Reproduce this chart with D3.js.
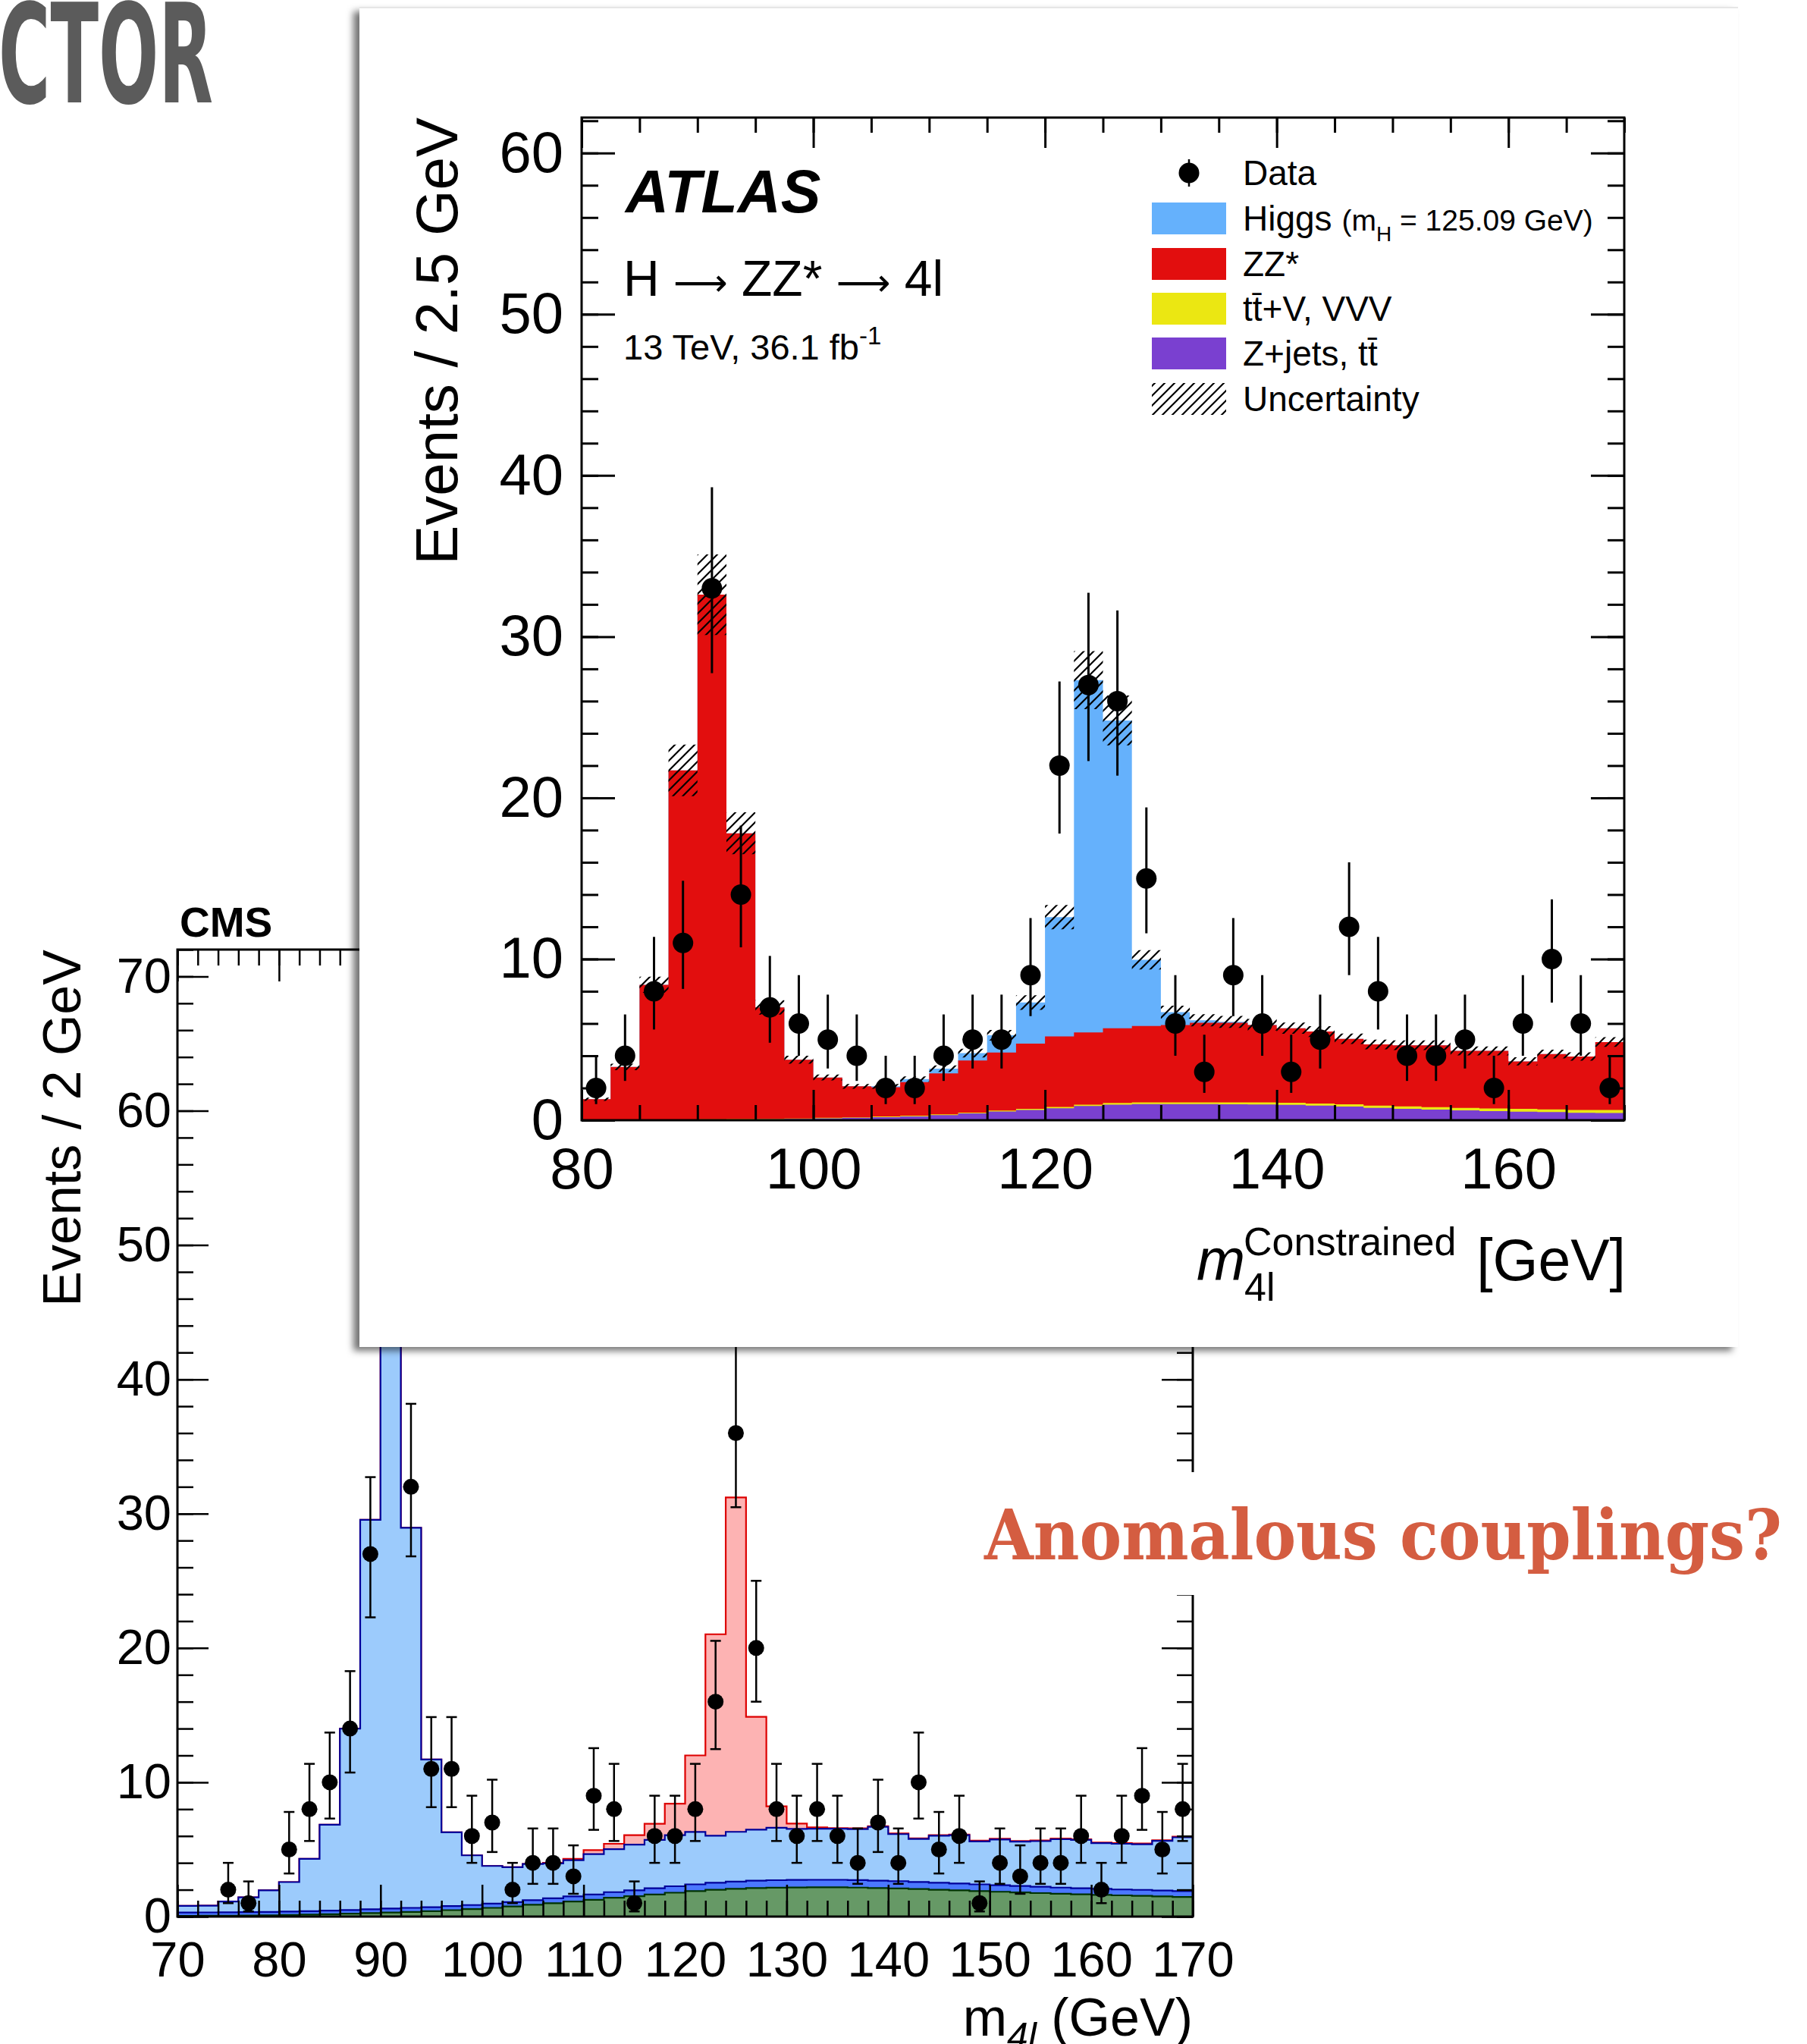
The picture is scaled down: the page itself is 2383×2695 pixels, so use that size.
<!DOCTYPE html>
<html>
<head>
<meta charset="utf-8">
<script src="https://cdn.jsdelivr.net/npm/d3@7"></script>
<style>
  html, body { margin: 0; padding: 0; background: #fff; }
  svg { display: block; }
</style>
</head>
<body>
<div id="chart"></div>
<script>
// ---------- ATLAS: 2.5 GeV bins, low edges ----------
var atlasEdges = [80,82.5,85,87.5,90,92.5,95,97.5,100,102.5,105,107.5,110,112.5,115,117.5,120,122.5,
                  125,127.5,130,132.5,135,137.5,140,142.5,145,147.5,150,152.5,155,157.5,160,162.5,165,167.5];
var atlasData  = [2,4,8,11,33,14,7,6,5,4,2,2,4,5,5,9,22,27,26,15,6,3,9,6,3,5,12,8,4,4,5,2,6,10,6,2];
var atlasZjets = [0.01,0.01,0.02,0.03,0.04,0.05,0.06,0.08,0.12,0.15,0.19,0.24,0.32,0.42,0.54,0.64,0.74,0.88,
                  0.97,1.0,1.0,1.0,0.99,0.98,0.95,0.9,0.85,0.76,0.71,0.66,0.61,0.57,0.53,0.5,0.46,0.45];
var atlasTTV   = [0.01,0.01,0.01,0.02,0.02,0.02,0.02,0.03,0.03,0.03,0.04,0.04,0.05,0.05,0.06,0.07,0.08,0.09,
                  0.1,0.1,0.11,0.11,0.12,0.12,0.13,0.13,0.14,0.14,0.15,0.15,0.16,0.16,0.17,0.17,0.18,0.18];
var atlasZZ    = [1.28,3.28,8.37,21.65,32.54,17.73,6.92,3.64,2.5,1.92,1.82,2.09,2.53,3.23,3.6,4.04,4.38,4.48,
                  4.63,4.75,4.79,4.94,4.94,4.8,4.62,4.47,4.06,3.8,3.79,3.84,3.53,3.57,2.95,3.43,3.31,4.22];
var atlasHiggs = [0,0,0,0,0,0,0,0,0,0,0.05,0.18,0.3,0.46,1.07,2.55,7.4,21.85,
                  19.1,4.1,0.8,0.15,0.05,0.02,0.01,0,0,0,0,0,0,0,0,0,0,0];
var atlasUnc   = [0.1,0.2,0.5,1.6,2.5,1.3,0.45,0.25,0.18,0.15,0.15,0.17,0.2,0.27,0.33,0.45,0.75,1.8,
                  1.55,0.6,0.4,0.38,0.37,0.36,0.35,0.34,0.32,0.3,0.3,0.3,0.28,0.28,0.25,0.27,0.26,0.3];
var atlasYTicks = [0,10,20,30,40,50,60];
var atlasXTicks = [80,100,120,140,160];

// ---------- CMS: 2 GeV bins, low edges ----------
var cmsEdges = [70,72,74,76,78,80,82,84,86,88,90,92,94,96,98,100,102,104,106,108,110,112,114,116,118,
                120,122,124,126,128,130,132,134,136,138,140,142,144,146,148,150,152,154,156,158,160,162,164,166,168];
var cmsData  = [0,0,2,1,0,5,8,10,14,27,58,32,11,11,6,7,2,4,4,3,9,8,1,6,6,
                8,16,36,20,8,6,8,6,4,7,4,10,5,6,1,4,3,4,4,6,2,6,9,5,8];
var cmsZX    = [0.05,0.06,0.07,0.08,0.1,0.12,0.15,0.18,0.22,0.26,0.3,0.35,0.4,0.48,0.56,0.65,0.75,0.88,1.0,1.12,
                1.25,1.4,1.52,1.65,1.78,1.9,2.0,2.07,2.12,2.15,2.17,2.18,2.18,2.16,2.13,2.1,2.05,2.0,1.95,1.9,
                1.85,1.8,1.75,1.7,1.66,1.62,1.58,1.55,1.5,1.46];
var cmsGGZZ  = [0.25,0.25,0.25,0.25,0.25,0.25,0.25,0.26,0.27,0.28,0.3,0.3,0.3,0.3,0.3,0.32,0.33,0.34,0.36,0.38,
                0.4,0.42,0.44,0.46,0.48,0.5,0.52,0.54,0.55,0.56,0.56,0.56,0.56,0.56,0.55,0.54,0.53,0.52,0.51,0.5,
                0.49,0.48,0.47,0.46,0.45,0.45,0.44,0.44,0.44,0.44];
var cmsQQZZ  = [0.5,0.5,0.8,1.1,1.6,2.2,3.9,6.4,13.5,29.0,57.4,28.3,11.0,5.5,3.7,2.8,2.6,2.7,2.6,2.7,
                3.0,3.2,3.4,3.6,3.8,3.9,3.5,3.7,3.8,3.9,3.8,3.8,3.8,3.8,4.0,3.5,3.2,3.5,3.6,3.2,
                3.4,3.3,3.4,3.6,3.6,3.4,3.4,3.4,3.7,4.0];
var cmsHiggs = [0,0,0,0,0,0,0,0,0,0,0,0,0,0,0,0,0,0,0.05,0.1,
                0.3,0.4,0.7,1.2,2.35,5.7,15.0,24.9,8.4,1.6,0.4,0.1,0.05,0.05,0.05,0.05,0.05,0.05,0.05,0.05,
                0.05,0.05,0.05,0.05,0.05,0.05,0.05,0.05,0.05,0.05];
var cmsYTicks = [0,10,20,30,40,50,60,70];
var cmsXTicks = [70,80,90,100,110,120,130,140,150,160,170];

var FONT = "'Liberation Sans', Arial, Helvetica, sans-serif";

var svg = d3.select('#chart').append('svg')
  .attr('width', 2383)
  .attr('height', 2695);

var defs = svg.append('defs');
defs.append('pattern')
  .attr('id', 'hatch')
  .attr('patternUnits', 'userSpaceOnUse')
  .attr('width', 13).attr('height', 13)
  .append('path')
  .attr('d', 'M-3,3 L3,-3 M0,13 L13,0 M10,16 L16,10')
  .attr('stroke', '#000')
  .attr('stroke-width', 2.2);
defs.append('filter')
  .attr('id', 'shadow')
  .attr('x', '-5%').attr('y', '-5%').attr('width', '110%').attr('height', '110%')
  .append('feDropShadow')
  .attr('dx', -8).attr('dy', 5).attr('stdDeviation', 5)
  .attr('flood-color', '#000').attr('flood-opacity', 0.55);

// poisson-ish asymmetric error
function errUp(n) { return Math.sqrt(n + 0.25) + 0.5 }
function errDn(n) { return Math.sqrt(n + 0.25) - 0.5 }

function stepPoints(edges, vals, hi) {
  var pts = edges.map(function(e, i) { return { x: e, v: vals[i] } });
  pts.push({ x: hi, v: vals[vals.length - 1] });
  return pts;
}

function drawAxes(g, x, y, o) {
  var x0 = x.range()[0], x1 = x.range()[1], yb = y.range()[0], yt = y.range()[1];
  function style(sel, fs) {
    sel.select('.domain').remove();
    sel.attr('font-size', fs).attr('font-family', FONT);
    sel.selectAll('line').attr('stroke', '#000').attr('stroke-width', o.tw);
    sel.selectAll('text').attr('fill', '#000');
  }
  var fmt = d3.format('d');
  // left / right
  g.append('g').attr('transform', 'translate(' + x0 + ',0)')
    .call(d3.axisLeft(y).tickValues(o.yMinor).tickSize(-o.yMin).tickFormat(''))
    .call(style, 0);
  g.append('g').attr('transform', 'translate(' + x0 + ',0)')
    .call(d3.axisLeft(y).tickValues(o.yMajor).tickSize(-o.yMaj).tickPadding(o.yPad).tickFormat(fmt))
    .call(style, o.fs);
  g.append('g').attr('transform', 'translate(' + x1 + ',0)')
    .call(d3.axisRight(y).tickValues(o.yMinor).tickSize(-o.yMin).tickFormat(''))
    .call(style, 0);
  g.append('g').attr('transform', 'translate(' + x1 + ',0)')
    .call(d3.axisRight(y).tickValues(o.yMajor).tickSize(-o.yMaj).tickFormat(''))
    .call(style, 0);
  // bottom / top
  g.append('g').attr('transform', 'translate(0,' + yb + ')')
    .call(d3.axisBottom(x).tickValues(o.xMinor).tickSize(-o.xMin).tickFormat(''))
    .call(style, 0);
  g.append('g').attr('transform', 'translate(0,' + yb + ')')
    .call(d3.axisBottom(x).tickValues(o.xMajor).tickSize(-o.xMaj).tickPadding(o.xPad).tickFormat(fmt))
    .call(style, o.fs);
  g.append('g').attr('transform', 'translate(0,' + yt + ')')
    .call(d3.axisTop(x).tickValues(o.xMinor).tickSize(-o.xMin).tickFormat(''))
    .call(style, 0);
  g.append('g').attr('transform', 'translate(0,' + yt + ')')
    .call(d3.axisTop(x).tickValues(o.xMajor).tickSize(-o.xMaj).tickFormat(''))
    .call(style, 0);
  g.append('rect')
    .attr('x', x0).attr('y', yt).attr('width', x1 - x0).attr('height', yb - yt)
    .attr('fill', 'none').attr('stroke', '#000').attr('stroke-width', o.fw);
}

// ---------- slide title fragment ----------
svg.append('text')
  .attr('x', -2).attr('y', 135)
  .attr('font-family', "'DejaVu Sans Condensed', 'DejaVu Sans', sans-serif")
  .attr('font-weight', 'bold')
  .attr('font-size', 181)
  .attr('textLength', 283)
  .attr('lengthAdjust', 'spacingAndGlyphs')
  .attr('fill', '#5b5b5b')
  .text('CTOR');

// ================= CMS (behind) =================
var cms = svg.append('g');
var xC = d3.scaleLinear().domain([70, 170]).range([234, 1573]);
var yC = d3.scaleLinear().domain([0, 72]).range([2527, 1252]);

var cmsRows = cmsEdges.map(function(e, i) {
  return { lo: e, zx: cmsZX[i], gg: cmsGGZZ[i], qq: cmsQQZZ[i], h: cmsHiggs[i] };
});
var cmsStack = d3.stack().keys(['zx', 'gg', 'qq', 'h'])(cmsRows);
var cmsFill = { zx: '#669966', gg: '#4b78ff', qq: '#9ccbfc', h: '#fdb3b3' };
var cmsLine = { zx: '#003300', gg: '#000099', qq: '#000099', h: '#dd0000' };

var cmsArea = d3.area().curve(d3.curveStepAfter)
  .x(function(d) { return xC(d.x) }).y0(yC(0)).y1(function(d) { return yC(d.v) });
var cmsTop = d3.line().curve(d3.curveStepAfter)
  .x(function(d) { return xC(d.x) }).y(function(d) { return yC(d.v) });

cmsStack.slice().reverse().forEach(function(s) {
  var pts = stepPoints(cmsEdges, s.map(function(d) { return d[1] }), 170);
  cms.append('path').attr('d', cmsArea(pts)).attr('fill', cmsFill[s.key]);
  cms.append('path').attr('d', cmsTop(pts)).attr('fill', 'none')
    .attr('stroke', cmsLine[s.key]).attr('stroke-width', 2.2);
});

drawAxes(cms, xC, yC, {
  yMajor: cmsYTicks, yMinor: d3.range(0, 72.1, 2), xMajor: cmsXTicks, xMinor: d3.range(70, 170.1, 2),
  yMaj: 41, yMin: 21, xMaj: 42, xMin: 21, yPad: 8, xPad: 33, fs: 65, tw: 2.5, fw: 3
});

var cmsPts = cms.append('g');
cmsEdges.forEach(function(e, i) {
  var n = cmsData[i];
  if (n <= 0) return;
  var cx = xC(e + 1);
  var ya = yC(n + errUp(n)), yb = yC(n - errDn(n));
  cmsPts.append('line').attr('x1', cx).attr('x2', cx).attr('y1', ya).attr('y2', yb)
    .attr('stroke', '#000').attr('stroke-width', 2.5);
  [ya, yb].forEach(function(yy) {
    cmsPts.append('line').attr('x1', cx - 7).attr('x2', cx + 7).attr('y1', yy).attr('y2', yy)
      .attr('stroke', '#000').attr('stroke-width', 2.5);
  });
  cmsPts.append('circle').attr('cx', cx).attr('cy', yC(n)).attr('r', 10.5).attr('fill', '#000');
});

cms.append('text')
  .attr('x', 237).attr('y', 1235)
  .attr('font-family', FONT).attr('font-weight', 'bold').attr('font-size', 55)
  .text('CMS');
cms.append('text')
  .attr('transform', 'translate(106,1252) rotate(-90)')
  .attr('text-anchor', 'end')
  .attr('font-family', FONT).attr('font-size', 70)
  .text('Events / 2 GeV');
var cmsXt = cms.append('text')
  .attr('x', 1573).attr('y', 2684)
  .attr('text-anchor', 'end')
  .attr('font-family', FONT).attr('font-size', 70);
cmsXt.append('tspan').text('m');
cmsXt.append('tspan').attr('font-size', 50).attr('font-style', 'italic').attr('dy', 18).text('4l');
cmsXt.append('tspan').attr('dy', -18).text(' (GeV)');

// ---------- question text (box hides CMS right axis) ----------
svg.append('rect').attr('x', 1285).attr('y', 1941).attr('width', 1098).attr('height', 162).attr('fill', '#fff');
svg.append('text')
  .attr('x', 1298).attr('y', 2056)
  .attr('font-family', "'DejaVu Serif Condensed', 'DejaVu Serif', serif")
  .attr('font-weight', 'bold')
  .attr('font-size', 92)
  .attr('textLength', 1052)
  .attr('lengthAdjust', 'spacingAndGlyphs')
  .attr('fill', '#d45d41')
  .text('Anomalous couplings?');

// ================= ATLAS card (front) =================
svg.append('rect')
  .attr('x', 474).attr('y', 10).attr('width', 1818).attr('height', 1766)
  .attr('fill', '#fff').attr('filter', 'url(#shadow)');
svg.append('line').attr('x1', 474).attr('x2', 2292).attr('y1', 10).attr('y2', 10)
  .attr('stroke', '#e6e6e6').attr('stroke-width', 2);

var atl = svg.append('g');
var xA = d3.scaleLinear().domain([80, 170]).range([767, 2142]);
var yA = d3.scaleLinear().domain([0, 62.2]).range([1477, 155]);

var atlRows = atlasEdges.map(function(e, i) {
  return { lo: e, zjets: atlasZjets[i], ttv: atlasTTV[i], zz: atlasZZ[i], higgs: atlasHiggs[i] };
});
var atlStack = d3.stack().keys(['zjets', 'ttv', 'zz', 'higgs'])(atlRows);
var atlFill = { zjets: '#7a40d0', ttv: '#ebe712', zz: '#e20e0e', higgs: '#65b1fc' };

var atlArea = d3.area().curve(d3.curveStepAfter)
  .x(function(d) { return xA(d.x) }).y0(yA(0)).y1(function(d) { return yA(d.v) });

atlStack.slice().reverse().forEach(function(s) {
  var pts = stepPoints(atlasEdges, s.map(function(d) { return d[1] }), 170);
  atl.append('path').attr('d', atlArea(pts)).attr('fill', atlFill[s.key]);
});

// uncertainty band
var totals = atlStack[3].map(function(d) { return d[1] });
var band = atlasEdges.map(function(e, i) { return { x: e, lo: totals[i] - atlasUnc[i], hi: totals[i] + atlasUnc[i] } });
band.push({ x: 170, lo: band[band.length - 1].lo, hi: band[band.length - 1].hi });
atl.append('path')
  .attr('d', d3.area().curve(d3.curveStepAfter)
    .x(function(d) { return xA(d.x) })
    .y0(function(d) { return yA(d.lo) })
    .y1(function(d) { return yA(d.hi) })(band))
  .attr('fill', 'url(#hatch)');

drawAxes(atl, xA, yA, {
  yMajor: atlasYTicks, yMinor: d3.range(0, 62.1, 2), xMajor: atlasXTicks, xMinor: d3.range(80, 170.1, 5),
  yMaj: 44, yMin: 22, xMaj: 40, xMin: 20, yPad: 24, xPad: 36, fs: 76, tw: 3, fw: 3
});

var atlPts = atl.append('g');
atlasEdges.forEach(function(e, i) {
  var n = atlasData[i];
  var cx = xA(e + 1.25);
  atlPts.append('line').attr('x1', cx).attr('x2', cx)
    .attr('y1', yA(n + errUp(n))).attr('y2', yA(n - errDn(n)))
    .attr('stroke', '#000').attr('stroke-width', 3);
  atlPts.append('circle').attr('cx', cx).attr('cy', yA(n)).attr('r', 13.5).attr('fill', '#000');
});

// labels
atl.append('text')
  .attr('x', 825).attr('y', 280)
  .attr('font-family', FONT).attr('font-weight', 'bold').attr('font-style', 'italic').attr('font-size', 79)
  .text('ATLAS');
var proc = atl.append('text')
  .attr('x', 822).attr('y', 390)
  .attr('font-family', FONT).attr('font-size', 66);
proc.append('tspan').text('H ');
proc.append('tspan').attr('font-family', "'DejaVu Sans', sans-serif").attr('font-size', 50).text('\u27F6');
proc.append('tspan').text(' ZZ* ');
proc.append('tspan').attr('font-family', "'DejaVu Sans', sans-serif").attr('font-size', 50).text('\u27F6');
proc.append('tspan').text(' 4l');
var lum = atl.append('text')
  .attr('x', 822).attr('y', 474)
  .attr('font-family', FONT).attr('font-size', 47);
lum.append('tspan').text('13 TeV, 36.1 fb');
lum.append('tspan').attr('font-size', 33).attr('dy', -20).text('-1');

atl.append('text')
  .attr('transform', 'translate(603,155) rotate(-90)')
  .attr('text-anchor', 'end')
  .attr('font-family', FONT).attr('font-size', 78)
  .text('Events / 2.5 GeV');

atl.append('text').attr('x', 1578).attr('y', 1688)
  .attr('font-family', FONT).attr('font-style', 'italic').attr('font-size', 77).text('m');
atl.append('text').attr('x', 1640).attr('y', 1655)
  .attr('font-family', FONT).attr('font-size', 52).text('Constrained');
atl.append('text').attr('x', 1641).attr('y', 1715)
  .attr('font-family', FONT).attr('font-size', 52).text('4l');
atl.append('text').attr('x', 2144).attr('y', 1688).attr('text-anchor', 'end')
  .attr('font-family', FONT).attr('font-size', 77).text('[GeV]');

// legend
var legRows = [228, 288, 348, 407, 466, 526];
var legSwatch = [null, '#65b1fc', '#e20e0e', '#ebe712', '#7a40d0', 'url(#hatch)'];
var legText = ['Data', 'Higgs', 'ZZ*', 'tt\u0304+V, VVV', 'Z+jets, tt\u0304', 'Uncertainty'];
var leg = atl.append('g');
leg.append('line').attr('x1', 1568).attr('x2', 1568).attr('y1', legRows[0] - 18).attr('y2', legRows[0] + 18)
  .attr('stroke', '#000').attr('stroke-width', 2.5);
leg.append('circle').attr('cx', 1568).attr('cy', legRows[0]).attr('r', 13.5).attr('fill', '#000');
legRows.forEach(function(cy, i) {
  if (legSwatch[i]) {
    leg.append('rect').attr('x', 1519).attr('y', cy - 21).attr('width', 98).attr('height', 42)
      .attr('fill', legSwatch[i]);
  }
  var t = leg.append('text').attr('x', 1639).attr('y', cy + 16)
    .attr('font-family', FONT).attr('font-size', 46);
  if (i === 1) {
    t.append('tspan').text('Higgs ');
    t.append('tspan').attr('font-size', 39).text('(m');
    t.append('tspan').attr('font-size', 28).attr('dy', 14).text('H');
    t.append('tspan').attr('font-size', 39).attr('dy', -14).text(' = 125.09 GeV)');
  } else {
    t.text(legText[i]);
  }
});
</script>
</body>
</html>
